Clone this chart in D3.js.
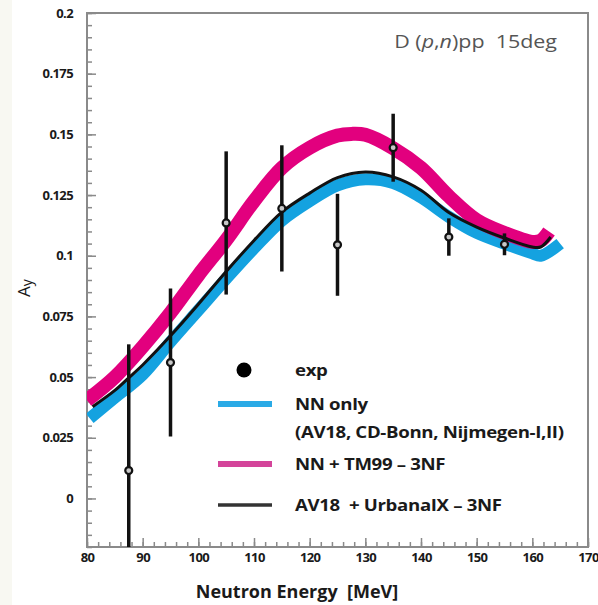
<!DOCTYPE html>
<html>
<head>
<meta charset="utf-8">
<script src="https://cdn.jsdelivr.net/npm/d3@7"></script>
<style>
  html, body { margin: 0; padding: 0; background: #ffffff; }
  svg { display: block; }
  text { font-family: "Open Sans", Lato, sans-serif; }
</style>
</head>
<body>
<svg id="chart" width="598" height="605"></svg>
<script>
// Measured analysing power Ay for D(p,n)pp at 15 degrees
const expEnergy = [87.5, 95, 105, 115, 125, 135, 145, 155];
const expAy     = [0.0115, 0.056, 0.1135, 0.1195, 0.1045, 0.1445, 0.1077, 0.1047];
const expErr    = [0.052, 0.0305, 0.0295, 0.026, 0.021, 0.014, 0.0077, 0.0045];

// NN-only band (AV18, CD-Bonn, Nijmegen-I,II), centre line
const nnEnergy = [80.5, 85, 90, 95, 100, 105, 110, 115, 120, 125, 130, 135, 140, 145, 150, 155, 160, 161.5, 165];
const nnAy     = [0.033, 0.0415, 0.051, 0.0645, 0.0775, 0.0905, 0.103, 0.1145, 0.1225, 0.129, 0.1315, 0.1300, 0.124, 0.116, 0.1094, 0.105, 0.101, 0.1, 0.105];

// NN + TM99 3NF band, centre line
const tmEnergy = [80, 85, 90, 95, 100, 105, 110, 115, 120, 125, 127.5, 130, 135, 140, 145, 150, 155, 160, 161.5, 163];
const tmAy     = [0.0405, 0.050, 0.0625, 0.0765, 0.092, 0.1065, 0.1225, 0.1362, 0.1445, 0.1495, 0.1502, 0.1498, 0.1443, 0.1362, 0.1245, 0.1147, 0.1094, 0.1057, 0.1062, 0.110];

// AV18 + UrbanaIX 3NF
const urEnergy = [81, 85, 87.5, 90, 95, 100, 105, 110, 115, 120, 125, 130, 135, 140, 145, 150, 155, 160, 161.5, 163.3];
const urAy     = [0.0378, 0.0445, 0.0497, 0.055, 0.067, 0.080, 0.0935, 0.1063, 0.118, 0.1258, 0.1322, 0.1345, 0.1325, 0.127, 0.1178, 0.1118, 0.1073, 0.1036, 0.1036, 0.1077];

const xTicks = [80, 90, 100, 110, 120, 130, 140, 150, 160, 170];
const xMinorTicks = d3.range(80, 170.1, 2);
const yTicks = [0, 0.025, 0.05, 0.075, 0.1, 0.125, 0.15, 0.175, 0.2];
const yTickLabels = ["0", "0.025", "0.05", "0.075", "0.1", "0.125", "0.15", "0.175", "0.2"];
const yMinorTicks = d3.range(-0.02, 0.2001, 0.005).map(v => +v.toFixed(3));

const legendItems = [
  { kind: "dot",  label: ["exp"] },
  { kind: "nn",   label: ["NN only", "(AV18, CD-Bonn, Nijmegen-I,II)"] },
  { kind: "tm",   label: ["NN + TM99 \u2013 3NF"] },
  { kind: "ur",   label: ["AV18\u00a0 + UrbanaIX \u2013 3NF"] }
];

const colBlue = "#14a2e0";
const colPink = "#e2007e";
const colAxis = "#8a8a8a";
const stretch = 1.13;   // horizontal widening of the lettering

const svg = d3.select("#chart");
const plot = { left: 87, right: 588, top: 13, bottom: 547 };

const x = d3.scaleLinear().domain([80, 170]).range([plot.left, plot.right]);
const y = d3.scaleLinear().domain([-0.02, 0.2]).range([plot.bottom, plot.top]);

// faint page edge
svg.append("rect").attr("x", 0).attr("y", 0).attr("width", 12).attr("height", 605).attr("fill", "#f8f8f2");

svg.append("defs").append("clipPath").attr("id", "clip")
  .append("rect")
  .attr("x", plot.left).attr("y", plot.top)
  .attr("width", plot.right - plot.left).attr("height", plot.bottom - plot.top);

const styleTickText = g => g.selectAll("text")
  .attr("fill", "#1a1a1a").attr("font-size", 13).attr("font-weight", 700)
  .attr("font-family", "Lato, sans-serif").attr("letter-spacing", -0.6);

// minor ticks
svg.append("g")
  .attr("transform", `translate(${plot.left},0)`)
  .call(d3.axisLeft(y).tickValues(yMinorTicks).tickSize(-5).tickFormat(""))
  .call(g => g.select(".domain").remove())
  .call(g => g.selectAll("line").attr("stroke", colAxis).attr("stroke-width", 1.5));
svg.append("g")
  .attr("transform", `translate(0,${plot.bottom})`)
  .call(d3.axisBottom(x).tickValues(xMinorTicks).tickSize(-5).tickFormat(""))
  .call(g => g.select(".domain").remove())
  .call(g => g.selectAll("line").attr("stroke", colAxis).attr("stroke-width", 1.5));

// major ticks with labels
svg.append("g")
  .attr("transform", `translate(${plot.left},0)`)
  .call(d3.axisLeft(y).tickValues(yTicks).tickSize(-9).tickPadding(14)
        .tickFormat((d, i) => yTickLabels[i]))
  .call(g => g.select(".domain").remove())
  .call(g => g.selectAll("line").attr("stroke", colAxis).attr("stroke-width", 1.5))
  .call(styleTickText);
svg.append("g")
  .attr("transform", `translate(0,${plot.bottom})`)
  .call(d3.axisBottom(x).tickValues(xTicks).tickSize(-9).tickPadding(6))
  .call(g => g.select(".domain").remove())
  .call(g => g.selectAll("line").attr("stroke", colAxis).attr("stroke-width", 1.5))
  .call(styleTickText);

// frame
svg.append("rect")
  .attr("x", plot.left).attr("y", plot.top)
  .attr("width", plot.right - plot.left).attr("height", plot.bottom - plot.top)
  .attr("fill", "none").attr("stroke", colAxis).attr("stroke-width", 2);

const line = d3.line().x(d => x(d[0])).y(d => y(d[1])).curve(d3.curveCatmullRom.alpha(0.5));
const curves = svg.append("g").attr("clip-path", "url(#clip)");

curves.append("path")
  .attr("d", line(d3.zip(nnEnergy, nnAy)))
  .attr("fill", "none").attr("stroke", colBlue).attr("stroke-width", 12)
  .attr("stroke-linejoin", "round");
curves.append("path")
  .attr("d", line(d3.zip(tmEnergy, tmAy)))
  .attr("fill", "none").attr("stroke", colPink).attr("stroke-width", 14)
  .attr("stroke-linejoin", "round");
curves.append("path")
  .attr("d", line(d3.zip(urEnergy, urAy)))
  .attr("fill", "none").attr("stroke", "#111").attr("stroke-width", 3)
  .attr("stroke-linejoin", "round");

// experimental points with error bars
const pts = curves.selectAll("g.pt").data(d3.range(expEnergy.length)).join("g").attr("class", "pt");
pts.append("line")
  .attr("x1", i => x(expEnergy[i])).attr("x2", i => x(expEnergy[i]))
  .attr("y1", i => y(expAy[i] + expErr[i])).attr("y2", i => y(expAy[i] - expErr[i]))
  .attr("stroke", "#111").attr("stroke-width", 3.5);
pts.append("circle")
  .attr("cx", i => x(expEnergy[i])).attr("cy", i => y(expAy[i])).attr("r", 3.5)
  .attr("fill", "#c8c8c8").attr("stroke", "#111").attr("stroke-width", 2.2);

// legend
const lg = svg.append("g");
const rowsY = [370, 404, 464, 505];
legendItems.forEach((it, k) => {
  const cy = rowsY[k];
  if (it.kind === "dot") {
    lg.append("circle").attr("cx", 244).attr("cy", cy).attr("r", 7.5).attr("fill", "#000");
  } else {
    const col = it.kind === "nn" ? "#2aaae6" : it.kind === "tm" ? "#d4449a" : "#333";
    const w = it.kind === "ur" ? 3.5 : 6;
    lg.append("line").attr("x1", 218).attr("x2", 272).attr("y1", cy).attr("y2", cy)
      .attr("stroke", col).attr("stroke-width", w);
  }
  it.label.forEach((t, j) => {
    lg.append("text")
      .attr("transform", `translate(295,${cy + 6 + j * 28}) scale(${stretch},1)`)
      .attr("font-size", 16.5).attr("font-weight", 700).attr("fill", "#1a1a1a")
      .attr("letter-spacing", -0.3)
      .text(t);
  });
});

// title
const title = svg.append("text")
  .attr("transform", `translate(557,48) scale(${stretch + 0.03},1)`)
  .attr("text-anchor", "end")
  .attr("font-size", 18.5).attr("fill", "#555");
title.append("tspan").text("D (");
title.append("tspan").attr("font-style", "italic").text("p");
title.append("tspan").text(",");
title.append("tspan").attr("font-style", "italic").text("n");
title.append("tspan").text(")pp\u00a0\u00a015deg");

// axis titles
svg.append("text").attr("x", 297).attr("y", 598).attr("text-anchor", "middle")
  .attr("font-size", 18).attr("font-weight", 700).attr("fill", "#1a1a1a")
  .text("Neutron Energy\u00a0\u00a0[MeV]");

const yl = svg.append("text").attr("transform", "translate(30,288) rotate(-90)")
  .attr("text-anchor", "middle").attr("font-size", 17).attr("fill", "#1a1a1a");
yl.append("tspan").text("A");
yl.append("tspan").attr("font-size", 14).attr("dy", 2).text("y");
</script>
</body>
</html>
